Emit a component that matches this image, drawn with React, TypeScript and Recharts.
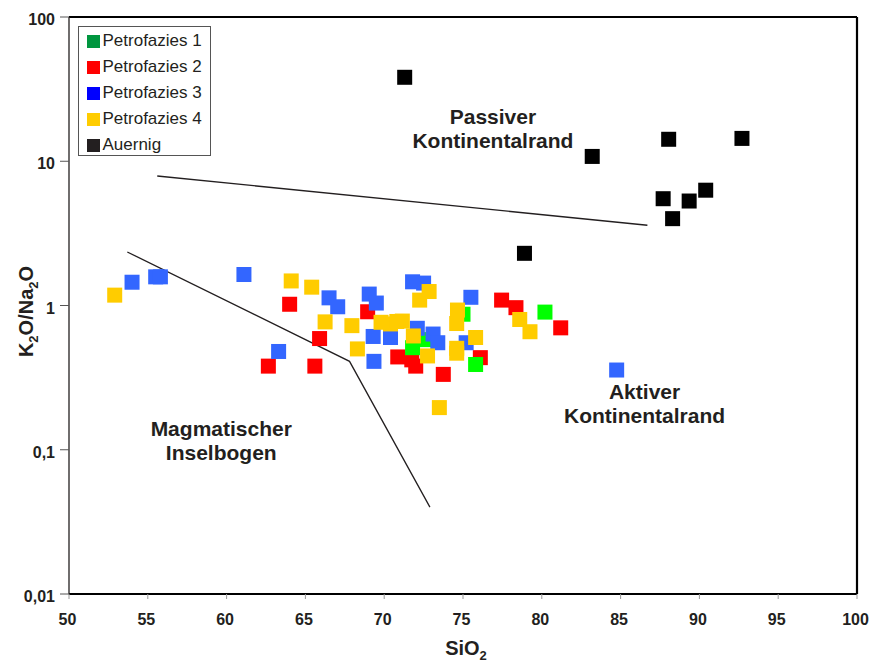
import React from 'react';
import { ScatterChart, Scatter, XAxis, YAxis, ReferenceLine, ReferenceDot, Legend, Label } from 'recharts';

const FONT = '"Liberation Sans", Arial, Helvetica, sans-serif';
const INK = '#231F20';

type Pt = [number, number];

// SiO2 (wt%) vs K2O/Na2O
const petrofazies1: Pt[] = [
  [71.8, 0.51], [72.6, 0.58], [75.0, 0.87], [75.8, 0.39], [80.2, 0.9],
];
const petrofazies2: Pt[] = [
  [64.0, 1.02], [65.9, 0.59], [62.65, 0.38], [65.6, 0.38], [68.95, 0.905], [70.86, 0.44],
  [71.75, 0.42], [72.0, 0.38], [73.75, 0.333], [76.1, 0.435], [77.45, 1.09], [78.36, 0.966], [81.2, 0.7],
];
const petrofazies3: Pt[] = [
  [54.0, 1.45], [55.5, 1.58], [55.8, 1.58], [61.1, 1.64], [63.3, 0.48], [66.5, 1.13], [67.05, 0.98],
  [69.05, 1.2], [69.5, 1.04], [69.3, 0.61], [70.4, 0.6], [69.35, 0.41], [71.8, 1.46], [72.5, 1.43],
  [72.1, 0.695], [73.1, 0.634], [73.4, 0.552], [75.5, 1.14], [75.2, 0.552], [84.75, 0.357],
];
const petrofazies4: Pt[] = [
  [52.9, 1.18], [64.1, 1.48], [65.4, 1.34], [66.25, 0.77], [67.95, 0.725], [68.3, 0.5], [69.8, 0.765],
  [70.4, 0.745], [70.8, 0.775], [71.15, 0.78], [72.85, 1.25], [72.25, 1.09], [71.85, 0.615],
  [72.75, 0.447], [73.5, 0.196], [74.65, 0.93], [74.6, 0.75], [75.8, 0.6], [74.6, 0.505],
  [74.6, 0.467], [78.6, 0.8], [79.25, 0.658],
];
const auernig: Pt[] = [
  [71.3, 38.2], [88.05, 14.2], [92.7, 14.4], [83.2, 10.8], [87.7, 5.5], [89.35, 5.3],
  [90.4, 6.3], [88.3, 4.0], [78.9, 2.3],
];

// Field boundaries
const upperBoundary: Pt[] = [[55.6, 7.9], [86.7, 3.6]];
const lowerBoundary: Pt[] = [[53.7, 2.35], [67.8, 0.41], [72.9, 0.04]];

// Field names and their anchor points
const fieldLabels: { lines: string[]; at: Pt }[] = [
  { lines: ['Passiver', 'Kontinentalrand'], at: [76.9, 15.0] },
  { lines: ['Aktiver', 'Kontinentalrand'], at: [86.52, 0.186] },
  { lines: ['Magmatischer', 'Inselbogen'], at: [59.66, 0.1028] },
];

const xTicks = [50, 55, 60, 65, 70, 75, 80, 85, 90, 95, 100];
const yTicks = [0.01, 0.1, 1, 10, 100];
const yTickLabels = ['0,01', '0,1', '1', '10', '100'];

const toObjs = (pts: Pt[]) => pts.map(([x, y]) => ({ x, y }));

const series = [
  { key: 'p1', name: 'Petrofazies 1', data: petrofazies1, fill: '#00FF00', swatch: '#00963F' },
  { key: 'p2', name: 'Petrofazies 2', data: petrofazies2, fill: '#FF0000', swatch: '#FF0000' },
  { key: 'p3', name: 'Petrofazies 3', data: petrofazies3, fill: '#3366FF', swatch: '#0000FF' },
  { key: 'p4', name: 'Petrofazies 4', data: petrofazies4, fill: '#FFCC00', swatch: '#FFCC00' },
  { key: 'au', name: 'Auernig', data: auernig, fill: '#000000', swatch: INK },
];
const drawOrder = ['p2', 'p1', 'p3', 'p4', 'au'];

const squareShape = (fill: string) => (props: any) => {
  const { cx, cy } = props;
  if (cx == null || cy == null) return <g />;
  return <rect x={cx - 7.5} y={cy - 7.5} width={15} height={15} fill={fill} />;
};

const XTick = (props: any) => {
  const { x, y, payload } = props;
  return (
    <text x={x - 1.5} y={y + 26} textAnchor="middle" fontFamily={FONT} fontWeight="bold" fontSize={16} fill={INK}>
      {payload.value}
    </text>
  );
};

const YTick = (props: any) => {
  const { x, y, payload } = props;
  const i = yTicks.indexOf(payload.value);
  return (
    <text x={x - 5} y={y + 8} textAnchor="end" fontFamily={FONT} fontWeight="bold" fontSize={16} fill={INK}>
      {i >= 0 ? yTickLabels[i] : payload.value}
    </text>
  );
};

const XTitle = (props: any) => {
  const vb = props.viewBox || { x: 69, y: 594, width: 788 };
  const cx = vb.x + vb.width / 2 + 3;
  return (
    <text x={cx} y={655} textAnchor="middle" fontFamily={FONT} fontWeight="bold" fontSize={20} fill={INK}>
      SiO<tspan dy={5} fontSize={13}>2</tspan>
    </text>
  );
};

const YTitle = (props: any) => {
  const vb = props.viewBox || { y: 17, height: 577 };
  const cy = vb.y + vb.height / 2 + 6;
  const cx = 33;
  return (
    <text
      x={cx}
      y={cy}
      textAnchor="middle"
      transform={`rotate(-90, ${cx}, ${cy})`}
      fontFamily={FONT}
      fontWeight="bold"
      fontSize={20}
      fill={INK}
    >
      K<tspan dy={5} fontSize={13}>2</tspan>
      <tspan dy={-5}>O/Na</tspan>
      <tspan dy={5} fontSize={13}>2</tspan>
      <tspan dy={-5}>O</tspan>
    </text>
  );
};

const fieldLabelShape = (lines: string[]) => (props: any) => {
  const { cx, cy } = props;
  return (
    <text textAnchor="middle" fontFamily={FONT} fontWeight="bold" fontSize={21} fill={INK}>
      <tspan x={cx} y={cy - 12}>{lines[0]}</tspan>
      <tspan x={cx} y={cy + 11.7}>{lines[1]}</tspan>
    </text>
  );
};

const LegendBox = () => (
  <div
    style={{
      position: 'relative',
      width: 131,
      height: 128,
      border: '1.5px solid #555',
      background: '#fff',
      fontFamily: FONT,
      fontSize: 17,
      color: INK,
      boxSizing: 'content-box',
    }}
  >
    {series.map((s, i) => (
      <div key={s.key} style={{ position: 'absolute', left: 7.5, top: 5 + i * 26, height: 18, display: 'flex', alignItems: 'center', whiteSpace: 'nowrap' }}>
        <span style={{ display: 'inline-block', width: 13, height: 13, background: s.swatch, marginRight: 3 }} />
        <span style={{ lineHeight: '18px' }}>{s.name}</span>
      </div>
    ))}
  </div>
);

export default function App() {
  const byKey = Object.fromEntries(series.map((s) => [s.key, s]));
  return (
    <div style={{ position: 'absolute', left: 0, top: 0, width: 874, height: 662, background: '#fff' }}>
      <ScatterChart width={874} height={662} margin={{ top: 17, right: 17, bottom: 0, left: 0 }}>
        <XAxis
          type="number"
          dataKey="x"
          domain={[50, 100]}
          ticks={xTicks}
          allowDataOverflow
          height={68}
          tickSize={5}
          tickMargin={0}
          tick={<XTick />}
          axisLine={{ stroke: '#000', strokeWidth: 2.2 }}
          tickLine={{ stroke: '#999', strokeWidth: 1 }}
        >
          <Label content={<XTitle />} />
        </XAxis>
        <YAxis
          type="number"
          dataKey="y"
          scale="log"
          domain={[0.01, 100]}
          ticks={yTicks}
          allowDataOverflow
          width={69}
          tickSize={9}
          tickMargin={0}
          tick={<YTick />}
          axisLine={{ stroke: INK, strokeWidth: 1.3 }}
          tickLine={{ stroke: '#555', strokeWidth: 1 }}
        >
          <Label content={<YTitle />} />
        </YAxis>

        <ReferenceLine y={100} stroke="#000" strokeWidth={2.2} />
        <ReferenceLine x={100} stroke="#000" strokeWidth={2.2} />

        <Scatter
          data={toObjs(upperBoundary)}
          line={{ stroke: INK, strokeWidth: 1.3 }}
          lineType="joint"
          shape={() => <g />}
          legendType="none"
          isAnimationActive={false}
        />
        <Scatter
          data={toObjs(lowerBoundary)}
          line={{ stroke: INK, strokeWidth: 1.3 }}
          lineType="joint"
          shape={() => <g />}
          legendType="none"
          isAnimationActive={false}
        />

        {drawOrder.map((k) => {
          const s = byKey[k];
          return (
            <Scatter
              key={s.key}
              name={s.name}
              data={toObjs(s.data)}
              fill={s.fill}
              shape={squareShape(s.fill)}
              isAnimationActive={false}
            />
          );
        })}

        {fieldLabels.map((f) => (
          <ReferenceDot key={f.lines[0]} x={f.at[0]} y={f.at[1]} r={0} shape={fieldLabelShape(f.lines)} />
        ))}

        <Legend
          layout="vertical"
          align="center"
          verticalAlign="middle"
          content={<LegendBox />}
          wrapperStyle={{ left: 78, top: 26, width: 134, height: 131 }}
        />
      </ScatterChart>
    </div>
  );
}
